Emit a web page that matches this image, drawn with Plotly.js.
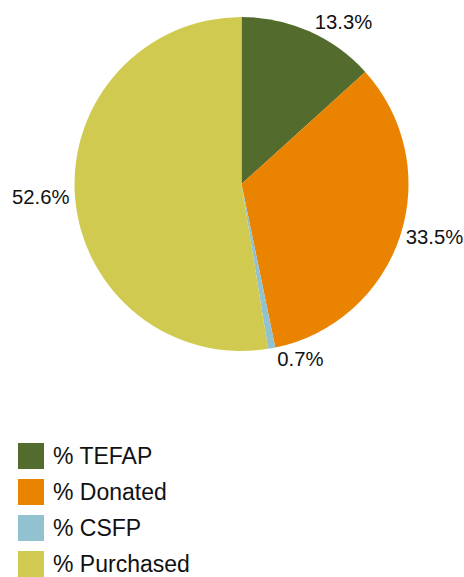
<!DOCTYPE html>
<html>
<head>
<meta charset="utf-8">
<script src="https://cdn.plot.ly/plotly-3.0.1.min.js"></script>
<style>html,body{margin:0;padding:0;background:#fff;}#chart{width:464px;height:577px;}</style>
</head>
<body>
<div id="chart"></div>
<script>
const categories = ["% TEFAP", "% Donated", "% CSFP", "% Purchased"];
const values = [13.3, 33.5, 0.7, 52.6];
const colors = ["#536B2C", "#E98300", "#92C2CF", "#D0CB50"];

const FONT = "Liberation Sans, Arial, sans-serif";

const trace = {
  type: "pie",
  labels: categories,
  values: values,
  sort: false,
  direction: "clockwise",
  rotation: 0,
  marker: { colors: colors, line: { width: 0 } },
  textinfo: "percent",
  texttemplate: "%{value:.1f}%",
  textposition: "outside",
  outsidetextfont: { family: FONT, size: 20.3, color: "#111111" },
  hoverinfo: "label+value",
  domain: { x: [74/464, 409/464], y: [226/577, 560/577] },
  showlegend: false
};

const shapes = [];
const annotations = [];
categories.forEach((c, i) => {
  const yc = 456 + i * 36;
  shapes.push({
    type: "rect", xref: "paper", yref: "paper",
    x0: 18/464, x1: 44/464,
    y0: (577 - yc - 13)/577, y1: (577 - yc + 13)/577,
    fillcolor: colors[i], line: { width: 0 }
  });
  annotations.push({
    xref: "paper", yref: "paper",
    x: 51/464, y: (577 - yc)/577,
    xanchor: "left", yanchor: "middle",
    text: c, showarrow: false,
    font: { family: FONT, size: 23, color: "#111111" }
  });
});

const layout = {
  width: 464, height: 577,
  margin: { l: 0, r: 0, t: 0, b: 0 },
  paper_bgcolor: "#ffffff",
  showlegend: false,
  shapes: shapes,
  annotations: annotations,
  font: { family: FONT }
};

Plotly.newPlot("chart", [trace], layout, { displayModeBar: false, staticPlot: true });
</script>
</body>
</html>
